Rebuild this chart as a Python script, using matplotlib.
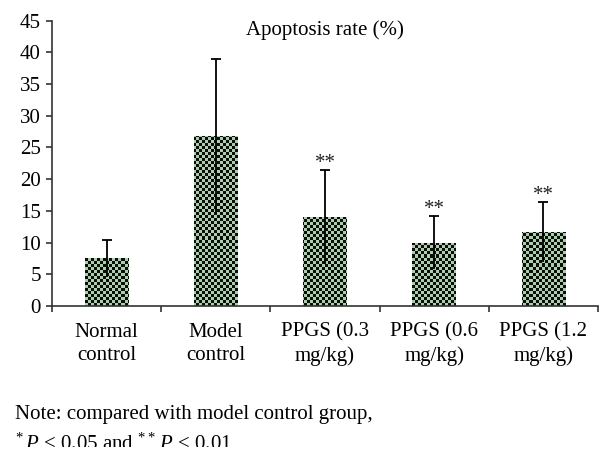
import numpy as np
import matplotlib
matplotlib.use("Agg")
import matplotlib.pyplot as plt
from matplotlib.patches import Rectangle
from matplotlib.colors import ListedColormap

# ---- data ----
categories = ["Normal\ncontrol", "Model\ncontrol", "PPGS (0.3\nmg/kg)",
              "PPGS (0.6\nmg/kg)", "PPGS (1.2\nmg/kg)"]
means = [7.5, 26.8, 14.0, 10.0, 11.7]
errors = [2.9, 12.2, 7.45, 4.15, 4.75]
significance = ["", "", "**", "**", "**"]
yticks = [0, 5, 10, 15, 20, 25, 30, 35, 40, 45]
title = "Apoptosis rate (%)"
note1 = "Note: compared with model control group,"
note2 = r"$^{*}\,P$ < 0.05 and $^{**}\,P$ < 0.01"

plt.rcParams['font.family'] = ['Liberation Serif', 'DejaVu Serif']
plt.rcParams['mathtext.fontset'] = 'custom'
plt.rcParams['mathtext.rm'] = 'Liberation Serif'
plt.rcParams['mathtext.it'] = 'Liberation Serif:italic'

W, H = 610, 462
fig = plt.figure(figsize=(W / 100, H / 100), dpi=100)
ax_l, ax_r, ax_b, ax_t = 52, 598, 306, 20.5
ax = fig.add_axes([ax_l / W, 1 - ax_b / H, (ax_r - ax_l) / W, (ax_b - ax_t) / H])

x = np.arange(len(categories))
ax.set_xlim(-0.5, len(categories) - 0.5)
ax.set_ylim(0, 45)

bars = ax.bar(x, means, width=0.40, color='#3a4a3a', edgecolor='none', zorder=2)

# checkerboard texture inside each bar
cell = 3.0
ncols = int(round((ax_r - ax_l) / cell))
nrows = int(round((ax_b - ax_t) / cell))
ii, jj = np.meshgrid(np.arange(ncols), np.arange(nrows))
checker = ((ii + jj) % 2).astype(float)
cmap = ListedColormap(['#081008', '#b0ccb0'])
for b in bars:
    im = ax.imshow(checker, extent=(-0.5, len(categories) - 0.5, 0, 45),
                   cmap=cmap, interpolation='nearest', aspect='auto',
                   origin='lower', zorder=2.5)
    im.set_clip_path(b)

eb = ax.errorbar(x, means, yerr=errors, fmt='none', ecolor='black',
                 elinewidth=1.3, capsize=3.5, capthick=1.3, zorder=3)
# only the upper caps are visible in the reference
eb[1][0].set_visible(False)

for xi, m, e, s in zip(x, means, errors, significance):
    if s:
        ax.text(xi, m + e + 0.3, s, ha='center', va='baseline', fontsize=15,
                color='#222222')

ax.text(0.5, (ax_b - 35) / (ax_b - ax_t), title, transform=ax.transAxes,
        ha='center', va='baseline', fontsize=15)

for sp in ['top', 'right']:
    ax.spines[sp].set_visible(False)
for sp in ['left', 'bottom']:
    ax.spines[sp].set_color('#333333')
    ax.spines[sp].set_linewidth(1.2)

ax.set_yticks(yticks)
ax.set_yticklabels([str(t) for t in yticks], fontsize=15)
ax.tick_params(axis='y', direction='out', length=4, width=1.2, color='#333333', pad=4)

ax.set_xticks(x)
ax.set_xticklabels(categories, fontsize=15, linespacing=1.32)
ax.tick_params(axis='x', which='major', length=0, pad=12)
ax.set_xticks(np.arange(len(categories) + 1) - 0.5, minor=True)
ax.tick_params(axis='x', which='minor', direction='out', length=4, width=1.2, color='#333333')

fig.text(15 / W, 1 - 419 / H, note1, ha='left', va='baseline', fontsize=15)
fig.text(15 / W, 1 - 449.5 / H, note2, ha='left', va='baseline', fontsize=15)
fig.patches.append(Rectangle((0, 0), 1, 1 - 446.5 / H, transform=fig.transFigure,
                             facecolor='white', edgecolor='none', zorder=10))

fig.savefig("out.png", dpi=100)
